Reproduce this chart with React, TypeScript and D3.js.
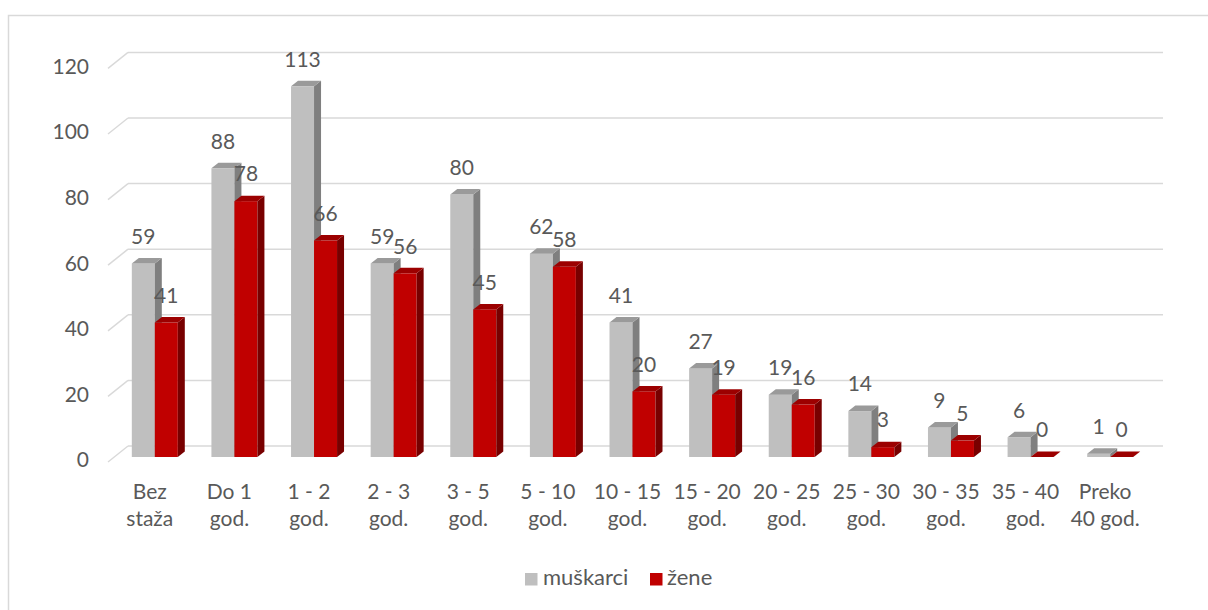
import React from "react";
import * as d3 from "d3";

const categories: string[][] = [
  ["Bez", "staža"],
  ["Do 1", "god."],
  ["1 - 2", "god."],
  ["2 - 3", "god."],
  ["3 - 5", "god."],
  ["5 - 10", "god."],
  ["10 - 15", "god."],
  ["15 - 20", "god."],
  ["20 - 25", "god."],
  ["25 - 30", "god."],
  ["30 - 35", "god."],
  ["35 - 40", "god."],
  ["Preko", "40 god."],
];
const muskarci = [59, 88, 113, 59, 80, 62, 41, 27, 19, 14, 9, 6, 1];
const zene = [41, 78, 66, 56, 45, 58, 20, 19, 16, 3, 5, 0, 0];
const yTicks = [0, 20, 40, 60, 80, 100, 120];
const seriesNames = ["muškarci", "žene"];

const FONT = "Lato, 'Open Sans', sans-serif";
const TEXT = "#595959";
const GRID = "#D9D9D9";

const series = [
  { name: seriesNames[0], values: muskarci, front: "#BFBFBF", side: "#7F7F7F", top: "#9A9A9A" },
  { name: seriesNames[1], values: zene, front: "#C00000", side: "#780000", top: "#9C0000" },
];

export default function App() {
  const W = 1208;
  const H = 610;
  const keys = categories.map((c) => c.join(" "));
  const x = d3.scaleBand<string>().domain(keys).range([115, 1150]).paddingInner(0).paddingOuter(0);
  const y = d3.scaleLinear().domain([0, 120]).range([457, 457 - 120 * 3.28]);
  const barW = 23;
  const dx = 7;
  const dy = 5.5;
  const backDy = -11;
  const frontDy = 5;
  const backX0 = 128;
  const backX1 = 1163;
  const frontX = 108;
  const FS = 21;

  const bars: React.ReactNode[] = [];
  keys.forEach((k, i) => {
    const cx = (x(k) as number) + x.bandwidth() / 2;
    series.forEach((s, si) => {
      const v = s.values[i];
      const x0 = cx - barW + si * barW;
      const x1 = x0 + barW;
      const yt = y(v);
      const yb = y(0);
      bars.push(
        <g key={`b-${i}-${si}`}>
          <rect x={x0} y={yt} width={barW} height={yb - yt} fill={s.front} />
          <polygon
            points={`${x1},${yt} ${x1 + dx},${yt - dy} ${x1 + dx},${yb - dy} ${x1},${yb}`}
            fill={s.side}
          />
          <polygon
            points={`${x0},${yt} ${x0 + dx},${yt - dy} ${x1 + dx},${yt - dy} ${x1},${yt}`}
            fill={s.top}
          />
        </g>
      );
    });
  });

  const labels: React.ReactNode[] = [];
  keys.forEach((k, i) => {
    const cx = (x(k) as number) + x.bandwidth() / 2;
    series.forEach((s, si) => {
      const v = s.values[i];
      const lx = cx - barW / 2 + si * barW;
      labels.push(
        <text
          key={`l-${i}-${si}`}
          x={lx}
          y={y(v) - 25}
          textAnchor="middle"
          dominantBaseline="middle"
          fontSize={FS}
          fill={TEXT}
          fontFamily={FONT}
        >
          {v}
        </text>
      );
    });
  });

  return (
    <svg width={W} height={H} style={{ position: "absolute", left: 0, top: 0 }}>
      <rect x={0} y={0} width={W} height={H} fill="#fff" />
      <rect x={8.5} y={15.5} width={1400} height={800} fill="none" stroke={GRID} strokeWidth={1.5} />
      {yTicks.map((t) => (
        <g key={`g-${t}`}>
          <line x1={backX0} x2={backX1} y1={y(t) + backDy} y2={y(t) + backDy} stroke={GRID} strokeWidth={1.5} />
          <line x1={frontX} x2={backX0} y1={y(t) + frontDy} y2={y(t) + backDy} stroke={GRID} strokeWidth={1.5} />
          <text
            x={89}
            y={y(t) + frontDy}
            textAnchor="end"
            dominantBaseline="middle"
            fontSize={FS}
            fill={TEXT}
            fontFamily={FONT}
          >
            {t}
          </text>
        </g>
      ))}
      {bars}
      {labels}
      {categories.map((c, i) => {
        const cx = (x(keys[i]) as number) + x.bandwidth() / 2 - 5;
        return (
          <text key={`c-${i}`} textAnchor="middle" fontSize={FS} fill={TEXT} fontFamily={FONT}>
            {c.map((line, li) => (
              <tspan key={li} x={cx} y={494 + li * 27} dominantBaseline="middle">
                {line}
              </tspan>
            ))}
          </text>
        );
      })}
      <g>
        <rect x={525} y={573} width={12.5} height={12.5} fill={series[0].front} />
        <text x={543} y={579} dominantBaseline="middle" fontSize={22} fill={TEXT} fontFamily={FONT}>
          {seriesNames[0]}
        </text>
        <rect x={650} y={573} width={12.5} height={12.5} fill={series[1].front} />
        <text x={667} y={579} dominantBaseline="middle" fontSize={22} fill={TEXT} fontFamily={FONT}>
          {seriesNames[1]}
        </text>
      </g>
    </svg>
  );
}
